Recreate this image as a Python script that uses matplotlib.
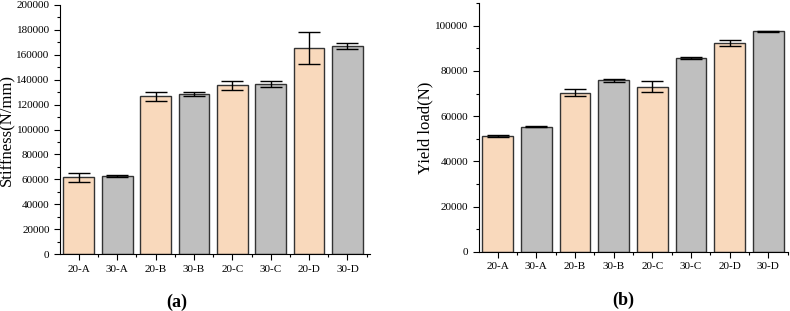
import matplotlib
matplotlib.use("Agg")
import matplotlib.pyplot as plt
from matplotlib.ticker import MultipleLocator
import numpy as np

plt.rcParams['font.family'] = ['Liberation Serif', 'DejaVu Serif']

groups = ['20-A', '30-A', '20-B', '30-B', '20-C', '30-C', '20-D', '30-D']

stiffness = [61500, 62600, 126600, 128400, 135600, 136500, 165300, 166800]
stiffness_err = [4000, 800, 3600, 1500, 3500, 2500, 12700, 2400]

yield_load = [51200, 55300, 70400, 75900, 73000, 85700, 92400, 97500]
yield_err = [500, 250, 1600, 700, 2500, 300, 1400, 150]

peach = '#F9D9BC'
grey = '#BFBFBF'
colors = [peach, grey] * 4

fig = plt.figure(figsize=(7.9, 3.11), dpi=100)
ax1 = fig.add_axes([0.076, 0.183, 0.392, 0.801])
ax2 = fig.add_axes([0.606, 0.190, 0.391, 0.800])


def draw(ax, vals, errs, ylabel, ymax, xmax):
    x = np.arange(len(groups))
    ax.bar(x, vals, width=0.8, color=colors, edgecolor='#333333', linewidth=1.0,
           zorder=2)
    ax.errorbar(x, vals, yerr=errs, fmt='none', ecolor='black', elinewidth=1.0,
                capsize=8, capthick=1.0, zorder=3)
    ax.set_xlim(-0.49, xmax)
    ax.set_ylim(0, ymax)
    ax.set_xticks(x)
    ax.set_xticklabels(groups, fontsize=8)
    ax.set_xticks(x + 0.5, minor=True)
    ax.yaxis.set_major_locator(MultipleLocator(20000))
    ax.yaxis.set_minor_locator(MultipleLocator(10000))
    ax.tick_params(axis='y', labelsize=8)
    ax.tick_params(which='major', direction='out', length=4, width=0.8)
    ax.tick_params(which='minor', direction='out', length=2.5, width=0.8)
    ax.spines['top'].set_visible(False)
    ax.spines['right'].set_visible(False)
    ax.set_ylabel(ylabel, fontsize=12, labelpad=1)


draw(ax1, stiffness, stiffness_err, 'Stiffness(N/mm)', 200000, 7.58)
draw(ax2, yield_load, yield_err, 'Yield load(N)', 110000, 7.49)

fig.text(0.224, 0.012, '(a)', fontsize=13, fontweight='bold', ha='center')
fig.text(0.789, 0.018, '(b)', fontsize=13, fontweight='bold', ha='center')

fig.savefig('out.png', dpi=100)
